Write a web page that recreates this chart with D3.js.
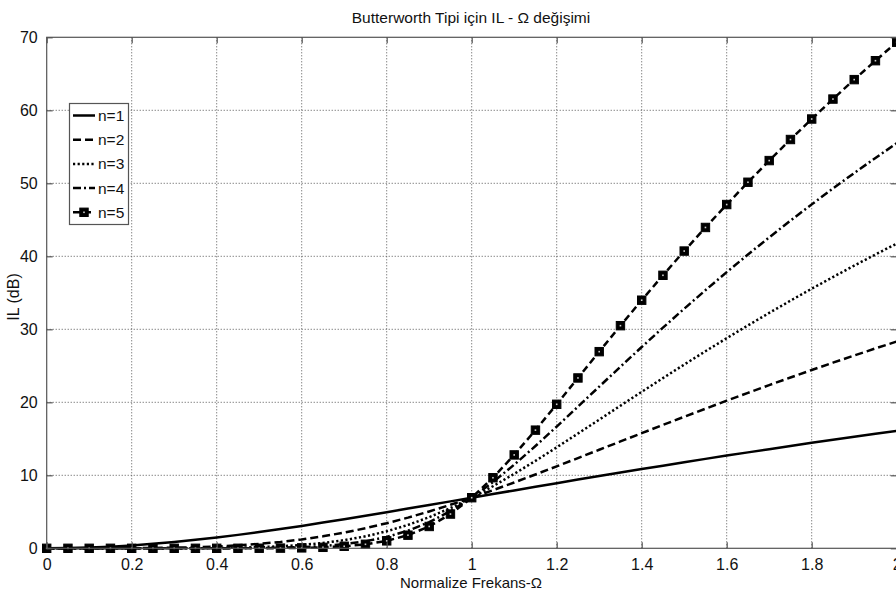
<!DOCTYPE html>
<html>
<head>
<meta charset="utf-8">
<script src="https://cdn.jsdelivr.net/npm/d3@7/dist/d3.min.js"></script>
<style>
  html, body { margin: 0; padding: 0; background: #fff; }
  svg { display: block; font-family: "Liberation Sans", Arial, sans-serif; }
</style>
</head>
<body>
<svg id="chart" width="896" height="596"></svg>
<script>
// Normalised frequency samples (Ω)
const omega = [0, 0.05, 0.1, 0.15, 0.2, 0.25, 0.3, 0.35, 0.4, 0.45, 0.5, 0.55, 0.6, 0.65, 0.7, 0.75, 0.8, 0.85, 0.9, 0.95,
  1, 1.05, 1.1, 1.15, 1.2, 1.25, 1.3, 1.35, 1.4, 1.45, 1.5, 1.55, 1.6, 1.65, 1.7, 1.75, 1.8, 1.85, 1.9, 1.95, 2];

// Insertion loss (dB) for each filter order
const il_n1 = [0, 0.025, 0.10, 0.22, 0.39, 0.61, 0.86, 1.16, 1.48, 1.84, 2.23, 2.64, 3.07, 3.52, 3.99, 4.46, 4.95, 5.44, 5.93, 6.43,
  6.93, 7.43, 7.93, 8.43, 8.92, 9.41, 9.90, 10.38, 10.85, 11.32, 11.79, 12.25, 12.70, 13.14, 13.58, 14.02, 14.45, 14.87, 15.28, 15.69, 16.09];
const il_n2 = [0, 0.0001, 0.001, 0.005, 0.016, 0.039, 0.081, 0.149, 0.253, 0.402, 0.606, 0.876, 1.219, 1.642, 2.152, 2.749, 3.433, 4.200, 5.045, 5.958,
  6.931, 7.955, 9.018, 10.112, 11.229, 12.359, 13.497, 14.636, 15.773, 16.902, 18.021, 19.128, 20.220, 21.297, 22.356, 23.398, 24.421, 25.427, 26.414, 27.382, 28.332];
const il_n3 = [0, 0, 0.0001, 0.0001, 0.0006, 0.0024, 0.0073, 0.0184, 0.041, 0.083, 0.155, 0.273, 0.456, 0.727, 1.112, 1.638, 2.328, 3.200, 4.262, 5.511,
  6.931, 8.502, 10.194, 11.979, 13.828, 15.717, 17.625, 19.535, 21.435, 23.316, 25.169, 26.992, 28.779, 30.530, 32.244, 33.919, 35.557, 37.158, 38.722, 40.250, 41.744];
const il_n4 = [0, 0, 0, 0, 0, 0.0002, 0.0007, 0.0023, 0.0066, 0.0168, 0.039, 0.083, 0.167, 0.314, 0.560, 0.954, 1.551, 2.410, 3.580, 5.089,
  6.931, 9.072, 11.454, 14.009, 16.677, 19.402, 22.146, 24.876, 27.573, 30.224, 32.820, 35.356, 37.830, 40.242, 42.593, 44.882, 47.113, 49.287, 51.407, 53.474, 55.491];
const il_n5 = [0, 0, 0, 0, 0, 0.0001, 0.0001, 0.0003, 0.001, 0.0034, 0.0098, 0.0253, 0.060, 0.134, 0.279, 0.548, 1.020, 1.797, 2.991, 4.692,
  6.931, 9.666, 12.792, 16.185, 19.729, 23.334, 26.937, 30.496, 33.987, 37.397, 40.718, 43.950, 47.091, 50.144, 53.112, 55.999, 58.807, 61.540, 64.202, 66.795, 69.324];

const seriesNames = ["n=1", "n=2", "n=3", "n=4", "n=5"];
const seriesValues = [il_n1, il_n2, il_n3, il_n4, il_n5];

const xTicks = [0, 0.2, 0.4, 0.6, 0.8, 1, 1.2, 1.4, 1.6, 1.8, 2];
const xTickLabels = ["0", "0.2", "0.4", "0.6", "0.8", "1", "1.2", "1.4", "1.6", "1.8", "2"];
const yTicks = [0, 10, 20, 30, 40, 50, 60, 70];
const yTickLabels = ["0", "10", "20", "30", "40", "50", "60", "70"];

const titleText = "Butterworth Tipi için IL - Ω değişimi";
const xLabelText = "Normalize Frekans-Ω";
const yLabelText = "IL (dB)";

// Line styles per order
const dashes = [null, "8,4", "2.2,2.4", "8,3,2,3", "7,4"];

const svg = d3.select("#chart");
const plot = { left: 46.7, right: 896.7, top: 37.3, bottom: 548.3 };

const x = d3.scaleLinear().domain([0, 2]).range([plot.left, plot.right]);
const y = d3.scaleLinear().domain([0, 70]).range([plot.bottom, plot.top]);

// Dotted grid
const grid = svg.append("g");
grid.selectAll("line.gx").data(xTicks.slice(1, -1)).enter().append("line")
  .attr("x1", d => x(d)).attr("x2", d => x(d)).attr("y1", plot.top).attr("y2", plot.bottom)
  .attr("stroke", "#555").attr("stroke-width", 1).attr("stroke-dasharray", "1,2");
grid.selectAll("line.gy").data(yTicks.slice(1, -1)).enter().append("line")
  .attr("x1", plot.left).attr("x2", plot.right).attr("y1", d => y(d)).attr("y2", d => y(d))
  .attr("stroke", "#555").attr("stroke-width", 1).attr("stroke-dasharray", "1,2");

// Curves
const line = d3.line().x((d, i) => x(omega[i])).y(d => y(d));
const curves = svg.append("g");
seriesValues.forEach((vals, k) => {
  curves.append("path").datum(vals)
    .attr("d", line)
    .attr("fill", "none")
    .attr("stroke", "#000")
    .attr("stroke-width", 2.5)
    .attr("stroke-dasharray", dashes[k])
    .attr("stroke-linejoin", "round");
});

// Square markers on the n=5 curve
function drawMarker(g, cx, cy) {
  g.append("rect").attr("x", cx - 4.2).attr("y", cy - 4.2).attr("width", 8.4).attr("height", 8.4)
    .attr("fill", "#000").attr("stroke", "#000").attr("stroke-width", 1);
  g.append("rect").attr("x", cx - 0.8).attr("y", cy - 0.8).attr("width", 1.6).attr("height", 1.6)
    .attr("fill", "#ccc");
}
const markers = svg.append("g");
il_n5.forEach((v, i) => drawMarker(markers, x(omega[i]), y(v)));

// Axes box and inward ticks
const axes = svg.append("g");
axes.append("rect").attr("x", plot.left).attr("y", plot.top)
  .attr("width", plot.right - plot.left).attr("height", plot.bottom - plot.top)
  .attr("fill", "none").attr("stroke", "#555").attr("stroke-width", 1.2);

const xAxis = d3.axisBottom(x).tickValues(xTicks).tickSize(-6).tickPadding(10)
  .tickFormat((d, i) => xTickLabels[i]);
const gx = axes.append("g").attr("transform", `translate(0,${plot.bottom})`).call(xAxis);
const yAxis = d3.axisLeft(y).tickValues(yTicks).tickSize(-6).tickPadding(9)
  .tickFormat((d, i) => yTickLabels[i]);
const gy = axes.append("g").attr("transform", `translate(${plot.left},0)`).call(yAxis);
// Mirrored ticks on top and right
const gxt = axes.append("g").attr("transform", `translate(0,${plot.top})`)
  .call(d3.axisTop(x).tickValues(xTicks).tickSize(-6).tickFormat(""));
const gyr = axes.append("g").attr("transform", `translate(${plot.right},0)`)
  .call(d3.axisRight(y).tickValues(yTicks).tickSize(-6).tickFormat(""));

[gx, gy, gxt, gyr].forEach(g => {
  g.select(".domain").remove();
  g.selectAll(".tick line").attr("stroke", "#555").attr("stroke-width", 1.2);
  g.selectAll(".tick text").attr("fill", "#111").attr("font-size", 16)
    .attr("font-family", "'Liberation Sans', Arial, sans-serif");
});

// Title and axis labels
svg.append("text").attr("x", 471).attr("y", 23).attr("text-anchor", "middle")
  .attr("font-size", 15.5).attr("fill", "#111").text(titleText);
svg.append("text").attr("x", 471).attr("y", 588).attr("text-anchor", "middle")
  .attr("font-size", 15).attr("fill", "#111").text(xLabelText);
svg.append("text").attr("transform", "translate(19,297) rotate(-90)").attr("text-anchor", "middle")
  .attr("font-size", 16).attr("fill", "#111").text(yLabelText);

// Legend
const legend = svg.append("g");
legend.append("rect").attr("x", 69.5).attr("y", 103.5).attr("width", 59).attr("height", 121)
  .attr("fill", "#fff").attr("stroke", "#555").attr("stroke-width", 1.2);
seriesNames.forEach((name, k) => {
  const ly = 115.5 + k * 24.2;
  legend.append("line").attr("x1", 73).attr("x2", 95).attr("y1", ly).attr("y2", ly)
    .attr("stroke", "#000").attr("stroke-width", 2.5).attr("stroke-dasharray", dashes[k]);
  if (k === 4) drawMarker(legend, 84, ly);
  legend.append("text").attr("x", 98).attr("y", ly + 5.5).attr("font-size", 15.5)
    .attr("fill", "#111").text(name);
});
</script>
</body>
</html>
